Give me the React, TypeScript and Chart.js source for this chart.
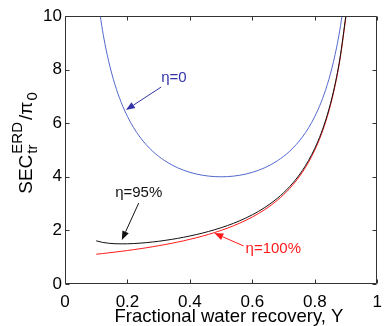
import { useEffect, useRef } from "react";
import { Chart, registerables } from "chart.js";

Chart.register(...registerables);

const recovery = [
  0.1, 0.12, 0.14, 0.16, 0.18, 0.2, 0.22, 0.24, 0.26, 0.28, 0.3, 0.32, 0.34, 0.36, 0.38, 0.4,
  0.42, 0.44, 0.46, 0.48, 0.5, 0.52, 0.54, 0.56, 0.58, 0.6, 0.62, 0.64, 0.66, 0.68, 0.7, 0.72,
  0.74, 0.76, 0.78, 0.8, 0.82, 0.84, 0.86, 0.88, 0.9,
];
const secEta0 = [
  11.111, 9.47, 8.306, 7.44, 6.775, 6.25, 5.828, 5.482, 5.198, 4.96, 4.762, 4.596, 4.456, 4.34,
  4.244, 4.167, 4.105, 4.058, 4.026, 4.006, 4.0, 4.006, 4.026, 4.058, 4.105, 4.167, 4.244, 4.34,
  4.456, 4.596, 4.762, 4.96, 5.198, 5.482, 5.828, 6.25, 6.775, 7.44, 8.306, 9.47, 11.111,
];
const secEta95 = [
  1.611, 1.553, 1.52, 1.503, 1.498, 1.5, 1.509, 1.524, 1.543, 1.567, 1.595, 1.627, 1.662, 1.701,
  1.744, 1.792, 1.843, 1.899, 1.961, 2.027, 2.1, 2.179, 2.266, 2.362, 2.467, 2.583, 2.712, 2.856,
  3.017, 3.199, 3.405, 3.641, 3.914, 4.232, 4.61, 5.063, 5.617, 6.31, 7.201, 8.39, 10.056,
];
const secEta100 = [
  1.111, 1.136, 1.163, 1.19, 1.22, 1.25, 1.282, 1.316, 1.351, 1.389, 1.429, 1.471, 1.515, 1.563,
  1.613, 1.667, 1.724, 1.786, 1.852, 1.923, 2.0, 2.083, 2.174, 2.273, 2.381, 2.5, 2.632, 2.778,
  2.941, 3.125, 3.333, 3.571, 3.846, 4.167, 4.545, 5.0, 5.556, 6.25, 7.143, 8.333, 10.0,
];
const xTicks = [0, 0.2, 0.4, 0.6, 0.8, 1];
const xTickLabels = ["0", "0.2", "0.4", "0.6", "0.8", "1"];
const yTicks = [0, 2, 4, 6, 8, 10];
const yTickLabels = ["0", "2", "4", "6", "8", "10"];
const xTitle = "Fractional water recovery, Y";

const FONT = "'Liberation Sans', Arial, Helvetica, sans-serif";
const BLUE = "#5468cc";
const BLUE_TEXT = "#3434a8";
const RED = "#ff1a1a";
const BLACK = "#111111";

const notes = [
  { text: "η=0", x: 0.349, y: 7.69, color: BLUE_TEXT, ax: [0.308, 7.35, 0.195, 6.49] },
  { text: "η=95%", x: 0.236, y: 3.4, color: BLACK, ax: [0.236, 3.02, 0.182, 1.64] },
  { text: "η=100%", x: 0.667, y: 1.31, color: RED, ax: [0.572, 1.42, 0.478, 1.9] },
];

const decor = {
  id: "decor",
  afterDraw(chart: any) {
    const { ctx, chartArea, scales } = chart;
    const { left, right, top, bottom } = chartArea;
    const xs = scales.x;
    const ys = scales.y;
    ctx.save();
    ctx.strokeStyle = "#333";
    ctx.lineWidth = 1;
    const L = Math.round(left) + 0.5;
    const R = Math.round(right) - 0.5;
    const T = Math.round(top) + 0.5;
    const B = Math.round(bottom) - 0.5;
    ctx.beginPath();
    ctx.rect(L, T, R - L, B - T);
    xTicks.forEach((v) => {
      const p = Math.round(xs.getPixelForValue(v)) + 0.5;
      ctx.moveTo(p, B);
      ctx.lineTo(p, B - 4);
      ctx.moveTo(p, T);
      ctx.lineTo(p, T + 4);
    });
    yTicks.forEach((v) => {
      const p = Math.round(ys.getPixelForValue(v)) + 0.5;
      ctx.moveTo(L, p);
      ctx.lineTo(L + 4, p);
      ctx.moveTo(R, p);
      ctx.lineTo(R - 4, p);
    });
    ctx.stroke();

    // annotations
    notes.forEach((n) => {
      ctx.fillStyle = n.color;
      ctx.strokeStyle = n.color;
      ctx.font = `15px ${FONT}`;
      ctx.textAlign = "center";
      ctx.textBaseline = "middle";
      ctx.fillText(n.text, xs.getPixelForValue(n.x), ys.getPixelForValue(n.y));
      const x1 = xs.getPixelForValue(n.ax[0]);
      const y1 = ys.getPixelForValue(n.ax[1]);
      const x2 = xs.getPixelForValue(n.ax[2]);
      const y2 = ys.getPixelForValue(n.ax[3]);
      const ang = Math.atan2(y2 - y1, x2 - x1);
      const hl = 9;
      const hw = 3.5;
      const bx = x2 - hl * Math.cos(ang);
      const by = y2 - hl * Math.sin(ang);
      ctx.lineWidth = 1;
      ctx.beginPath();
      ctx.moveTo(x1, y1);
      ctx.lineTo(bx, by);
      ctx.stroke();
      ctx.beginPath();
      ctx.moveTo(x2, y2);
      ctx.lineTo(bx - hw * Math.sin(ang), by + hw * Math.cos(ang));
      ctx.lineTo(bx + hw * Math.sin(ang), by - hw * Math.cos(ang));
      ctx.closePath();
      ctx.fill();
    });

    // x title
    ctx.fillStyle = "#000";
    ctx.font = `18.5px ${FONT}`;
    ctx.textAlign = "center";
    ctx.textBaseline = "alphabetic";
    ctx.fillText(xTitle, 229, 322);

    // y title with super/subscripts
    ctx.translate(32, 143);
    ctx.rotate(-Math.PI / 2);
    ctx.textAlign = "left";
    const big = `19px ${FONT}`;
    const small = `15px ${FONT}`;
    const parts: { t: string; f: string; dy: number; gap: number; stackWithNext?: boolean }[] = [
      { t: "SEC", f: big, dy: 0, gap: 1 },
      { t: "ERD", f: small, dy: -10, gap: 2, stackWithNext: true },
      { t: "tr", f: small, dy: 5, gap: 2 },
      { t: "/π", f: big, dy: 0, gap: 1 },
      { t: "0", f: small, dy: 5, gap: 0 },
    ];
    let total = 0;
    const widths: number[] = [];
    parts.forEach((p) => {
      ctx.font = p.f;
      widths.push(ctx.measureText(p.t).width);
    });
    for (let i = 0; i < parts.length; i++) {
      if (parts[i].stackWithNext) {
        total += Math.max(widths[i], widths[i + 1]) + parts[i].gap;
        i++;
      } else total += widths[i] + parts[i].gap;
    }
    let cx = -total / 2;
    for (let i = 0; i < parts.length; i++) {
      const p = parts[i];
      ctx.font = p.f;
      ctx.fillText(p.t, cx, p.dy);
      if (p.stackWithNext) {
        const q = parts[i + 1];
        ctx.font = q.f;
        ctx.fillText(q.t, cx, q.dy);
        cx += Math.max(widths[i], widths[i + 1]) + p.gap;
        i++;
      } else cx += widths[i] + p.gap;
    }
    ctx.restore();
  },
};

export default function App() {
  const ref = useRef<HTMLCanvasElement>(null);
  useEffect(() => {
    document.body.style.margin = "0";
    const mk = (vals: number[]) => recovery.map((x, i) => ({ x, y: vals[i] }));
    const ds = (data: any, color: string) => ({
      data,
      borderColor: color,
      borderWidth: 1,
      pointRadius: 0,
      fill: false,
      cubicInterpolationMode: "monotone" as const,
    });
    const chart = new Chart(ref.current!, {
      type: "line",
      data: {
        datasets: [ds(mk(secEta0), BLUE), ds(mk(secEta95), BLACK), ds(mk(secEta100), RED)],
      },
      options: {
        animation: false,
        responsive: false,
        events: [],
        layout: { padding: { top: 16, right: 7, left: 0, bottom: 0 } },
        plugins: { legend: { display: false }, tooltip: { enabled: false } },
        scales: {
          x: {
            type: "linear",
            min: 0,
            max: 1,
            grid: { display: false, drawTicks: false },
            border: { display: false },
            afterBuildTicks: (s: any) => {
              s.ticks = xTicks.map((v) => ({ value: v }));
            },
            afterFit: (s: any) => {
              s.height = 42;
            },
            ticks: {
              padding: 8,
              color: "#000",
              font: { family: FONT, size: 17 },
              maxRotation: 0,
              autoSkip: false,
              callback: (v: any) => xTickLabels[xTicks.indexOf(Number(v))] ?? "",
            },
          },
          y: {
            type: "linear",
            min: 0,
            max: 10,
            grid: { display: false, drawTicks: false },
            border: { display: false },
            afterBuildTicks: (s: any) => {
              s.ticks = yTicks.map((v) => ({ value: v }));
            },
            afterFit: (s: any) => {
              s.width = 65;
            },
            ticks: {
              padding: 3,
              color: "#000",
              font: { family: FONT, size: 17 },
              autoSkip: false,
              callback: (v: any) => yTickLabels[yTicks.indexOf(Number(v))] ?? "",
            },
          },
        },
      },
      plugins: [decor],
    });
    return () => chart.destroy();
  }, []);
  return (
    <div style={{ position: "absolute", left: 0, top: 0, width: 390, height: 326 }}>
      <canvas ref={ref} width={390} height={326} style={{ width: 390, height: 326 }} />
    </div>
  );
}
